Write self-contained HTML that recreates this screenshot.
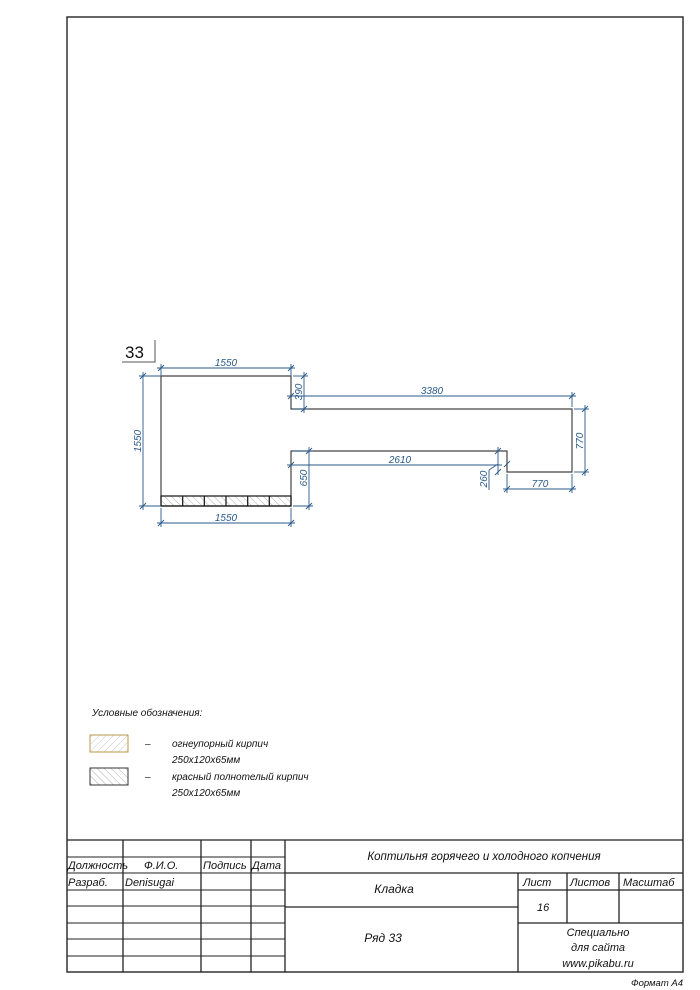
<!DOCTYPE html>
<html><head><meta charset="utf-8"><style>
html,body{margin:0;padding:0;background:#fff;}
svg{display:block;}
text{font-family:"Liberation Sans","DejaVu Sans",sans-serif;font-style:italic;}
</style></head><body>
<svg width="700" height="990" viewBox="0 0 700 990" xmlns="http://www.w3.org/2000/svg">
<defs>
<pattern id="h1" width="5" height="5" patternUnits="userSpaceOnUse" patternTransform="rotate(45)"><line x1="0" y1="0" x2="0" y2="5" stroke="#bbb" stroke-width="0.8"/></pattern>
<pattern id="h2" width="5" height="5" patternUnits="userSpaceOnUse" patternTransform="rotate(-45)"><line x1="0" y1="0" x2="0" y2="5" stroke="#999" stroke-width="0.8"/></pattern>
</defs>
<rect x="67" y="17" width="616" height="955" fill="none" stroke="#333" stroke-width="1.5"/>
<text x="125" y="358" font-size="17" style="font-style:normal" fill="#111">33</text>
<polyline points="122,362 155,362 155,340" fill="none" stroke="#555" stroke-width="1"/>
<polygon points="161,376 291,376 291,409 572,409 572,472 507,472 507,451 291,451 291,506 161,506" fill="none" stroke="#444" stroke-width="1.2"/>
<g stroke="#111" stroke-width="1.2">
<rect x="161" y="496" width="130" height="10" fill="url(#h2)"/>
<line x1="182.7" y1="496" x2="182.7" y2="506"/><line x1="204.3" y1="496" x2="204.3" y2="506"/><line x1="226" y1="496" x2="226" y2="506"/><line x1="247.7" y1="496" x2="247.7" y2="506"/><line x1="269.3" y1="496" x2="269.3" y2="506"/>
</g>
<g stroke="#2a5a8a" stroke-width="0.9" fill="none">
<line x1="157" y1="368" x2="295" y2="368"/><line x1="161" y1="364" x2="161" y2="376"/><line x1="291" y1="364" x2="291" y2="376"/>
<line x1="158" y1="371" x2="164" y2="365"/><line x1="288" y1="371" x2="294" y2="365"/>
<line x1="143" y1="372" x2="143" y2="510"/><line x1="139" y1="376" x2="161" y2="376"/><line x1="139" y1="506" x2="161" y2="506"/>
<line x1="140" y1="379" x2="146" y2="373"/><line x1="140" y1="509" x2="146" y2="503"/>
<line x1="157" y1="523" x2="295" y2="523"/><line x1="161" y1="508" x2="161" y2="527"/><line x1="291" y1="508" x2="291" y2="527"/>
<line x1="158" y1="526" x2="164" y2="520"/><line x1="288" y1="526" x2="294" y2="520"/>
<line x1="304" y1="372" x2="304" y2="413"/><line x1="293" y1="376" x2="308" y2="376"/><line x1="293" y1="409" x2="308" y2="409"/>
<line x1="301" y1="379" x2="307" y2="373"/><line x1="301" y1="412" x2="307" y2="406"/>
<line x1="287" y1="396" x2="576" y2="396"/><line x1="572" y1="392" x2="572" y2="407"/>
<line x1="288" y1="399" x2="294" y2="393"/><line x1="569" y1="399" x2="575" y2="393"/>
<line x1="585" y1="405" x2="585" y2="476"/><line x1="574" y1="409" x2="589" y2="409"/><line x1="574" y1="472" x2="589" y2="472"/>
<line x1="582" y1="412" x2="588" y2="406"/><line x1="582" y1="475" x2="588" y2="469"/>
<line x1="287" y1="465" x2="502" y2="465"/><line x1="498" y1="447" x2="498" y2="475"/>
<line x1="288" y1="468" x2="294" y2="462"/><line x1="495" y1="454" x2="501" y2="448"/><line x1="495" y1="475" x2="501" y2="469"/>
<line x1="309" y1="447" x2="309" y2="510"/><line x1="293" y1="451" x2="313" y2="451"/><line x1="293" y1="506" x2="313" y2="506"/>
<line x1="306" y1="454" x2="312" y2="448"/><line x1="306" y1="509" x2="312" y2="503"/>
<line x1="498" y1="464" x2="489" y2="470"/><line x1="489" y1="470" x2="489" y2="490"/>
<line x1="503" y1="489" x2="576" y2="489"/><line x1="507" y1="474" x2="507" y2="493"/><line x1="572" y1="474" x2="572" y2="493"/>
<line x1="504" y1="492" x2="510" y2="486"/><line x1="569" y1="492" x2="575" y2="486"/><line x1="504" y1="467" x2="510" y2="461"/>
</g>
<g fill="#2a5a8a" font-size="10">
<text x="226" y="366" text-anchor="middle">1550</text>
<text x="226" y="521" text-anchor="middle">1550</text>
<text x="141" y="441" text-anchor="middle" transform="rotate(-90 141 441)">1550</text>
<text x="302" y="392" text-anchor="middle" transform="rotate(-90 302 392)">390</text>
<text x="432" y="394" text-anchor="middle">3380</text>
<text x="583" y="441" text-anchor="middle" transform="rotate(-90 583 441)">770</text>
<text x="400" y="463" text-anchor="middle">2610</text>
<text x="307" y="478" text-anchor="middle" transform="rotate(-90 307 478)">650</text>
<text x="487" y="479" text-anchor="middle" transform="rotate(-90 487 479)">260</text>
<text x="540" y="487" text-anchor="middle">770</text>
</g>
<g font-size="10" fill="#111">
<text x="92" y="716">Условные обозначения:</text>
<rect x="90" y="735" width="38" height="17" fill="url(#h1)" stroke="#b59a4a" stroke-width="1"/>
<rect x="90" y="768" width="38" height="17" fill="url(#h2)" stroke="#333" stroke-width="1"/>
<text x="145" y="747">–</text><text x="145" y="780">–</text>
<text x="172" y="747">огнеупорный кирпич</text>
<text x="172" y="763">250х120х65мм</text>
<text x="172" y="780">красный полнотелый кирпич</text>
<text x="172" y="796">250х120х65мм</text>
</g>
<g stroke="#222" stroke-width="1.3" fill="none">
<line x1="67" y1="840" x2="683" y2="840"/>
<line x1="285" y1="840" x2="285" y2="972"/>
<line x1="123" y1="840" x2="123" y2="972"/><line x1="201" y1="840" x2="201" y2="972"/><line x1="251" y1="840" x2="251" y2="972"/>
<line x1="285" y1="873" x2="683" y2="873"/>
<line x1="285" y1="907" x2="518" y2="907"/>
<line x1="518" y1="873" x2="518" y2="972"/>
<line x1="567" y1="873" x2="567" y2="923"/><line x1="619" y1="873" x2="619" y2="923"/>
<line x1="518" y1="890" x2="683" y2="890"/><line x1="518" y1="923" x2="683" y2="923"/>
<g stroke-width="0.9">
<line x1="67" y1="857" x2="285" y2="857"/><line x1="67" y1="873" x2="285" y2="873"/>
<line x1="67" y1="890" x2="285" y2="890"/><line x1="67" y1="906" x2="285" y2="906"/>
<line x1="67" y1="923" x2="285" y2="923"/><line x1="67" y1="939" x2="285" y2="939"/>
<line x1="67" y1="956" x2="285" y2="956"/>
</g>
</g>
<g font-size="11" fill="#111">
<text x="68" y="869">Должность</text><text x="144" y="869">Ф.И.О.</text>
<text x="203" y="869">Подпись</text><text x="252" y="869">Дата</text>
<text x="68" y="886">Разраб.</text><text x="125" y="886">Denisugai</text>
<text x="484" y="860" text-anchor="middle" font-size="11.5">Коптильня горячего и холодного копчения</text>
<text x="394" y="893" text-anchor="middle" font-size="12">Кладка</text>
<text x="383" y="942" text-anchor="middle" font-size="12">Ряд 33</text>
<text x="523" y="886">Лист</text><text x="570" y="886">Листов</text><text x="623" y="886">Масштаб</text>
<text x="537" y="911">16</text>
<text x="598" y="936" text-anchor="middle">Специально</text>
<text x="598" y="951" text-anchor="middle">для сайта</text>
<text x="598" y="967" text-anchor="middle">www.pikabu.ru</text>
<text x="683" y="986" text-anchor="end" font-size="9.5">Формат А4</text>
</g>
</svg>
</body></html>
